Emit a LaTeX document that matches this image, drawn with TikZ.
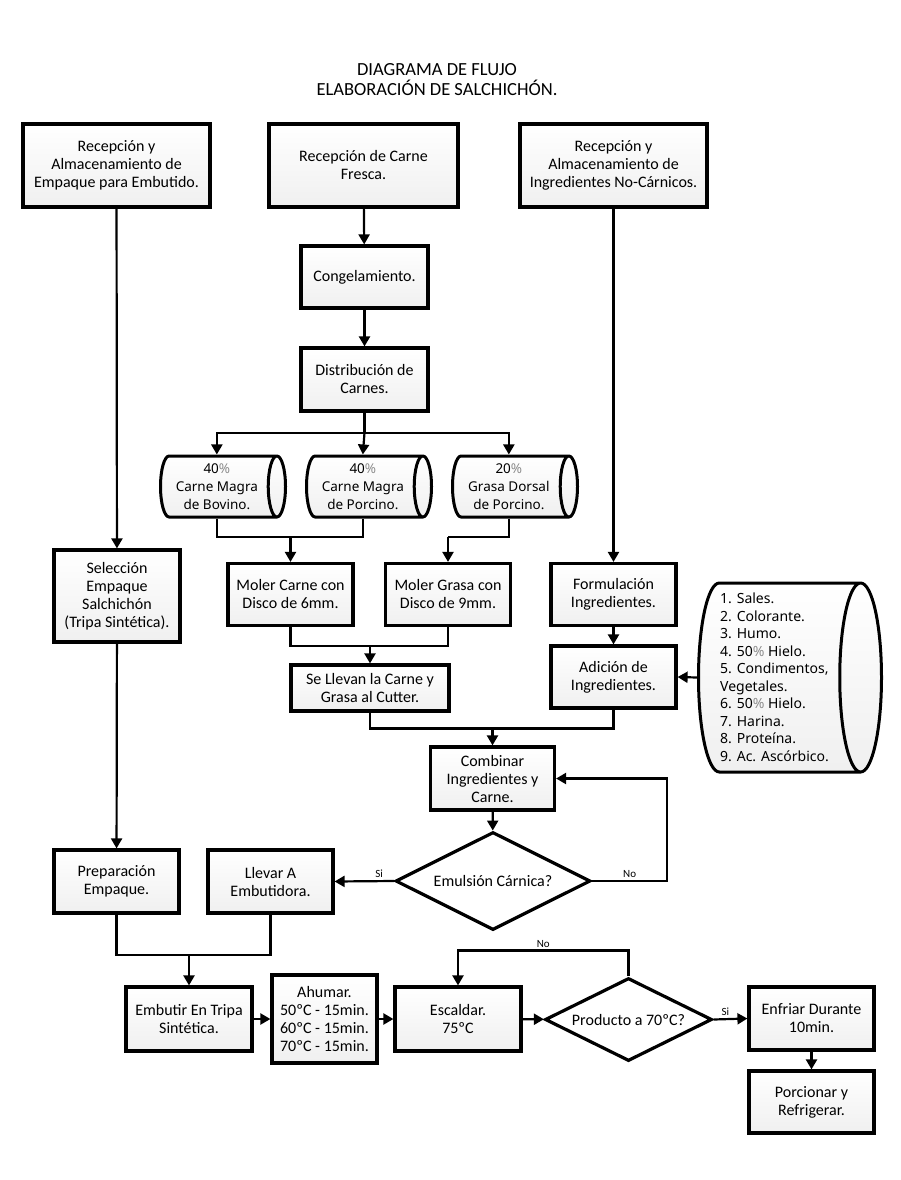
\documentclass[tikz,border=0pt]{standalone}
\usepackage{fontspec}
\setmainfont{Carlito}
\newfontfamily\cylfont{Noto Sans}
\usepackage{xcolor}
\usetikzlibrary{arrows.meta,shapes.geometric,calc}

\newcommand{\pct}{\textcolor{black!45}{\%}}

\begin{document}
\begin{tikzpicture}[
    x=1pt, y=-1pt,
    >={Triangle[length=10pt,width=11pt]},
    box/.style={draw, line width=3.2pt, top color=white, bottom color=black!6,
                minimum width=125pt, minimum height=63pt, align=center,
                inner sep=2pt, font=\fontsize{16}{18}\selectfont},
    cyl/.style={cylinder, shape border rotate=0, draw, line width=3pt,
                top color=white, bottom color=black!6, aspect=0.36, anchor=west,
                minimum height=125pt, minimum width=61pt, align=center,
                inner sep=1pt, font=\cylfont\fontsize{13.5}{18}\selectfont},
    dec/.style={diamond, draw, line width=3.2pt, fill=white, inner sep=0pt,
                aspect=2, align=center, font=\fontsize{16}{18}\selectfont},
    arr/.style={->, line width=2.2pt},
    ln/.style={line width=2.2pt},
    lbl/.style={font=\fontsize{11}{12}\selectfont, inner sep=2pt},
  ]
  \fill[white] (0,0) rectangle (900,1180);
  \useasboundingbox (0,0) rectangle (900,1180);

  \node[align=center, font=\fontsize{18.5}{20}\selectfont] (titulo) at (437,80)
    {DIAGRAMA DE FLUJO\\ELABORACIÓN DE SALCHICHÓN.};

  % fila superior
  \node[box, minimum width=187pt, minimum height=83pt] (recEmp) at (116.5,165.5)
    {Recepción y\\Almacenamiento de\\Empaque para Embutido.};
  \node[box, minimum width=189pt, minimum height=83pt] (recCarne) at (363.5,165.5)
    {Recepción de Carne\\Fresca.};
  \node[box, minimum width=187pt, minimum height=83pt] (recIng) at (613.5,165.5)
    {Recepción y\\Almacenamiento de\\Ingredientes No-Cárnicos.};

  \node[box, minimum width=127pt, minimum height=62pt] (congel) at (364.5,277) {Congelamiento.};
  \node[box, minimum width=127pt] (distrib) at (364.5,379.5) {Distribución de\\Carnes.};

  % carnes
  \node[cyl] (cBov) at (159,486.5) {40\pct\\Carne Magra\\de Bovino.};
  \node[cyl] (cPor) at (305,486.5) {40\pct\\Carne Magra\\de Porcino.};
  \node[cyl] (cGra) at (451,486.5) {20\pct\\Grasa Dorsal\\de Porcino.};

  \node[box, minimum width=126pt, minimum height=92pt] (selEmp) at (117,596)
    {Selección\\Empaque\\Salchichón\\(Tripa Sintética).};
  \node[box, minimum height=62pt] (molerC) at (290.5,594.5) {Moler Carne con\\Disco de 6mm.};
  \node[box, minimum height=62pt] (molerG) at (448,594.5) {Moler Grasa con\\Disco de 9mm.};
  \node[box, minimum height=62pt] (formul) at (613.5,594.5) {Formulación\\Ingredientes.};

  \node[box, minimum width=158pt, minimum height=46pt] (cutter) at (370,688)
    {Se Llevan la Carne y\\Grasa al Cutter.};
  \node[box, minimum height=62pt] (adic) at (613.5,677) {Adición de\\Ingredientes.};

  % ingredientes no carnicos
  \node[cyl, aspect=0.24, minimum height=183pt, minimum width=189pt] (lista) at (697,677.5)
    {\rule{0pt}{172pt}};
  \node[align=left, anchor=west, inner sep=0pt,
        font=\cylfont\fontsize{14}{17.5}\selectfont] (listaTxt) at (720,677.5)
    {1. Sales.\\2. Colorante.\\3. Humo.\\4. 50\pct{} Hielo.\\5. Condimentos,\\Vegetales.\\
     6. 50\pct{} Hielo.\\7. Harina.\\8. Proteína.\\9. Ac. Ascórbico.};

  \node[box, minimum width=124pt] (combinar) at (492.5,778.5) {Combinar\\Ingredientes y\\Carne.};
  \node[dec, minimum width=195pt, minimum height=98pt] (emulsion) at (493,881) {Emulsión Cárnica?};
  \node[box] (llevar) at (270.5,881.5) {Llevar A\\Embutidora.};
  \node[box] (prepEmp) at (116.5,881.5) {Preparación\\Empaque.};

  % fila inferior
  \node[box, minimum width=126pt, minimum height=64pt] (embutir) at (189,1019) {Embutir En Tripa\\Sintética.};
  \node[box, minimum width=105pt, minimum height=88pt] (ahumar) at (324.5,1019)
    {Ahumar.\\50ºC - 15min.\\60ºC - 15min.\\70ºC - 15min.};
  \node[box, minimum width=126pt, minimum height=64pt] (escaldar) at (458,1019) {Escaldar.\\75ºC};
  \node[dec, minimum width=167pt, minimum height=83pt] (producto) at (628.5,1019.5) {Producto a 70ºC?};
  \node[box] (enfriar) at (811.5,1018.5) {Enfriar Durante\\10min.};
  \node[box, minimum height=62pt] (porcion) at (811.5,1102) {Porcionar y\\Refrigerar.};

  % conexiones
  \draw[arr] (recEmp) -- (selEmp);
  \draw[arr] (selEmp) -- (prepEmp);
  \draw[arr] (recCarne) -- (congel);
  \draw[arr] (congel) -- (distrib);
  \draw[ln] (distrib.south) -- ++(0,20) coordinate (reparto);
  \draw[arr] (reparto) -| (cBov.north);
  \draw[arr] (reparto) -- (cPor.north);
  \draw[arr] (reparto) -| (cGra.north);

  \coordinate (juntaC) at (290.5,537);
  \coordinate (juntaG) at (448,537);
  \draw[ln] (cBov.south) |- (juntaC) -| (cPor.south);
  \draw[arr] (juntaC) -- (molerC);
  \draw[ln] (cGra.south) |- (juntaG);
  \draw[arr] (juntaG) -- (molerG);

  \coordinate (juntaM) at (370,646);
  \draw[ln] (molerC) |- (juntaM) -| (molerG);
  \draw[arr] (juntaM) -- (cutter);

  \draw[arr] (recIng) -- (formul);
  \draw[arr] (formul) -- (adic);
  \draw[arr] (lista.west) -- (adic.east);

  \coordinate (juntaI) at (492.5,728.5);
  \draw[ln] (cutter) |- (juntaI) -| (adic);
  \draw[arr] (juntaI) -- (combinar);
  \draw[arr] (combinar) -- (emulsion);
  \draw[arr] (emulsion.east) -- node[lbl, above] {No} ++(75,0) |- (combinar.east);
  \draw[arr] (emulsion.west) -- node[lbl, above, pos=0.25] {Si} (llevar.east);

  \coordinate (juntaE) at (189,955);
  \draw[ln] (prepEmp) |- (juntaE) -| (llevar);
  \draw[arr] (juntaE) -- (embutir);

  \draw[arr] (embutir) -- (ahumar);
  \draw[arr] (ahumar) -- (escaldar);
  \draw[arr] (escaldar) -- (producto);
  \draw[arr] (producto.east) -- node[lbl, above, pos=0.35] {Si} (enfriar.west);
  \draw[arr] (producto.north) -- ++(0,-26) -| node[lbl, above, pos=0.25] {No} (escaldar.north);
  \draw[arr] (enfriar) -- (porcion);
\end{tikzpicture}
\end{document}
